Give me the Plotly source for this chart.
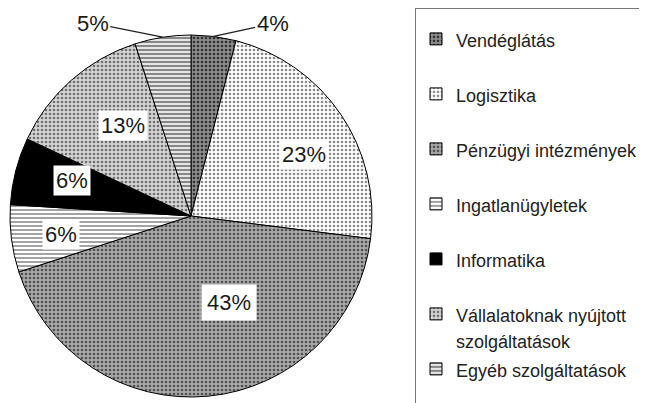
import math
import plotly.graph_objects as go

# ágazatok és részesedés (%)
labels = ['Vendéglátás', 'Logisztika', 'Pénzügyi intézmények', 'Ingatlanügyletek',
          'Informatika', 'Vállalatoknak nyújtott<br>szolgáltatások', 'Egyéb szolgáltatások']
values = [4, 23, 43, 6, 6, 13, 5]

# grayscale fills like the printed original
bg = ['#8c8c8c', '#ffffff', '#a8a8a8', '#ffffff', '#000000', '#d4d4d4', '#e6e6e6']
fg = ['#303030', '#8a8a8a', '#505050', '#7a7a7a', '#000000', '#707070', '#606060']
shapes = ['.', '.', '.', '-', '', '.', '-']

W, H = 647, 403
# page body adds an 8px offset, so geometry is given in figure px
cx, cy, R = 183, 208, 181

# where each label sits (fraction of radius); the two small slices are labelled outside
lab_r = [1.0, 0.755, 0.585, 0.83, 0.79, 0.78, 1.0]
lab_off = [(59, -13), None, None, None, None, None, (-70, -14)]

leg_labels = ['<span style="font-size:18px">' + l + '</span>'
              + ('<br> ' if '<br>' not in l else '') for l in labels]

fig = go.Figure(go.Pie(
    labels=leg_labels,
    values=values,
    sort=False,
    direction='clockwise',
    rotation=0,
    textinfo='none',
    marker=dict(
        colors=bg,
        line=dict(color='black', width=1),
        pattern=dict(shape=shapes, fgcolor=fg, bgcolor=bg, size=4, solidity=0.35),
    ),
    domain=dict(x=[(cx - R) / W, (cx + R) / W], y=[1 - (cy + R) / H, 1 - (cy - R) / H]),
    hoverinfo='percent',
))

# percentage labels, placed at each slice's mid angle
total = sum(values)
cum = 0
for i, v in enumerate(values):
    ang = math.radians((cum + v / 2) / total * 360)
    cum += v
    px_ = cx + lab_r[i] * R * math.sin(ang)
    py_ = cy - lab_r[i] * R * math.cos(ang)
    txt = '%d%%' % round(v / total * 100)
    if lab_off[i] is None:
        fig.add_annotation(x=px_ / W, y=1 - py_ / H, xref='paper', yref='paper',
                           text=txt, showarrow=False, bgcolor='white',
                           borderpad=5 if v > 30 else 2,
                           font=dict(size=22, color='#1a1a1a'))
    else:
        fig.add_annotation(x=px_ / W, y=1 - py_ / H, xref='paper', yref='paper',
                           text=txt, showarrow=True, arrowhead=0, arrowwidth=1.3,
                           arrowcolor='#222222', ax=lab_off[i][0], ay=lab_off[i][1],
                           font=dict(size=22, color='#1a1a1a'))

fig.update_layout(
    width=W, height=H,
    margin=dict(l=0, r=0, t=0, b=0),
    paper_bgcolor='white',
    font=dict(family='Liberation Sans, Arial', color='black'),
    showlegend=True,
    legend=dict(
        x=407 / W, y=1 - 8 / H, xanchor='left', yanchor='top',
        bordercolor='#777777', borderwidth=1,
        font=dict(size=20, color='#222222'),
        title=dict(text=' ', font=dict(size=8)),
        valign='top',
        itemclick=False,
    ),
)

fig.write_html('out.html')
